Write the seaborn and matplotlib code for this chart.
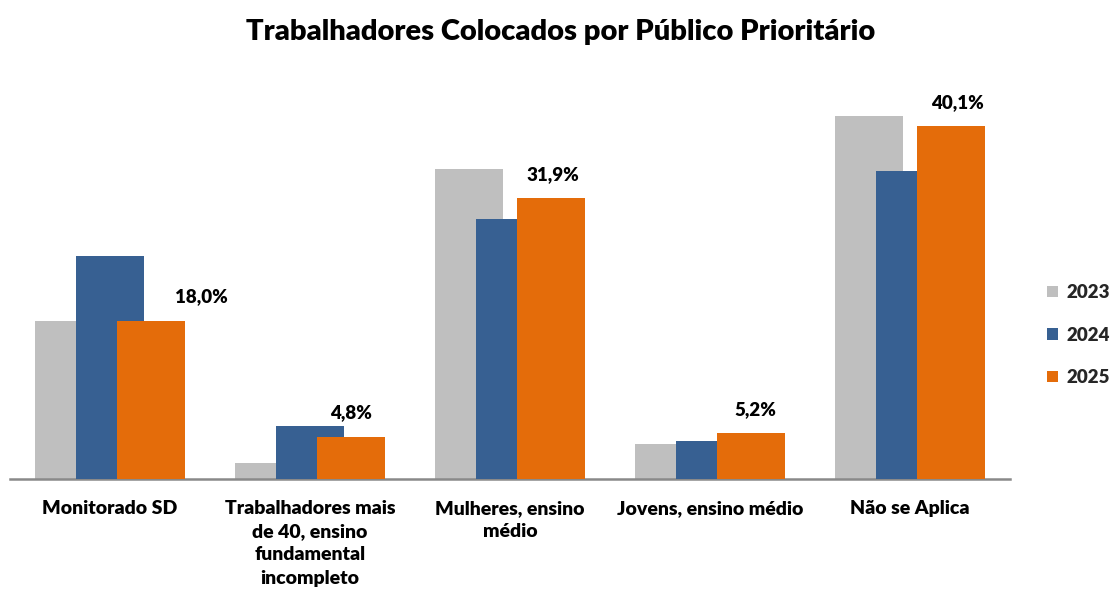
import matplotlib
matplotlib.use("Agg")
import matplotlib.pyplot as plt
import seaborn as sns
import pandas as pd
from matplotlib.patches import Patch

# Data
categories = [
    "Monitorado SD",
    "Trabalhadores mais\nde 40, ensino\nfundamental\nincompleto",
    "Mulheres, ensino\nmédio",
    "Jovens, ensino médio",
    "Não se Aplica",
]
years = ["2023", "2024", "2025"]
values_2023 = [18.0, 1.8, 35.2, 4.0, 41.2]
values_2024 = [25.3, 6.0, 29.5, 4.3, 35.0]
values_2025 = [18.0, 4.8, 31.9, 5.2, 40.1]
labels_2025 = ["18,0%", "4,8%", "31,9%", "5,2%", "40,1%"]

colors = ["#BFBFBF", "#376092", "#E46C0A"]

df = pd.DataFrame({
    "categoria": categories * 3,
    "ano": [y for y in years for _ in categories],
    "valor": values_2023 + values_2024 + values_2025,
})

sns.set_theme(style="white")
plt.rcParams["font.family"] = ["Lato", "DejaVu Sans"]
W = "heavy"

fig = plt.figure(figsize=(11.14, 5.92), dpi=100)
ax = fig.add_axes([0.009, 0.191, 0.8977, 0.669])

sns.barplot(data=df, x="categoria", y="valor", hue="ano", order=categories,
            hue_order=years, palette=colors, ax=ax, legend=False,
            saturation=1, errorbar=None)

# Overlapping bars: each bar 0.34 wide, shifted by 0.205 per series
bar_w = 0.34
step = 0.205
for k, cont in enumerate(ax.containers):
    for i, bar in enumerate(cont):
        bar.set_width(bar_w)
        bar.set_x(i + (k - 1) * step - bar_w / 2)
        bar.set_edgecolor("none")
        bar.set_zorder(2 + k)

# Value labels for 2025
label_dx = [50, 0, 2, 4, 6]
for i, bar in enumerate(ax.containers[2]):
    ax.annotate(labels_2025[i],
                xy=(bar.get_x() + bar.get_width() / 2, bar.get_height()),
                xytext=(label_dx[i] * 0.72, 17), textcoords="offset points",
                ha="center", va="center", fontsize=13.5, fontweight=W,
                color="black", zorder=10)

ax.set_xlim(-0.5, 4.5)
ax.set_ylim(0, 45)
ax.set_xlabel("")
ax.set_ylabel("")
ax.set_yticks([])
for s in ["top", "right", "left"]:
    ax.spines[s].set_visible(False)
ax.spines["bottom"].set_color("#898989")
ax.spines["bottom"].set_linewidth(1.8)
ax.tick_params(axis="x", length=0, pad=15)
for t in ax.get_xticklabels():
    t.set_fontsize(14)
    t.set_fontweight(W)
    t.set_color("black")
    t.set_verticalalignment("top")
    t.set_linespacing(1.45)

fig.suptitle("Trabalhadores Colocados por Público Prioritário", x=0.503,
             y=0.968, fontsize=21, fontweight=W, color="black")

handles = [Patch(facecolor=c, edgecolor="none", label=y) for c, y in zip(colors, years)]
fig.legend(handles=handles, loc="center left", bbox_to_anchor=(0.925, 0.434),
           frameon=False, handlelength=0.55, handleheight=0.55,
           handletextpad=0.45, labelspacing=1.35,
           prop={"weight": W, "size": 13.5})

fig.savefig("out.png", dpi=100, facecolor="white")
